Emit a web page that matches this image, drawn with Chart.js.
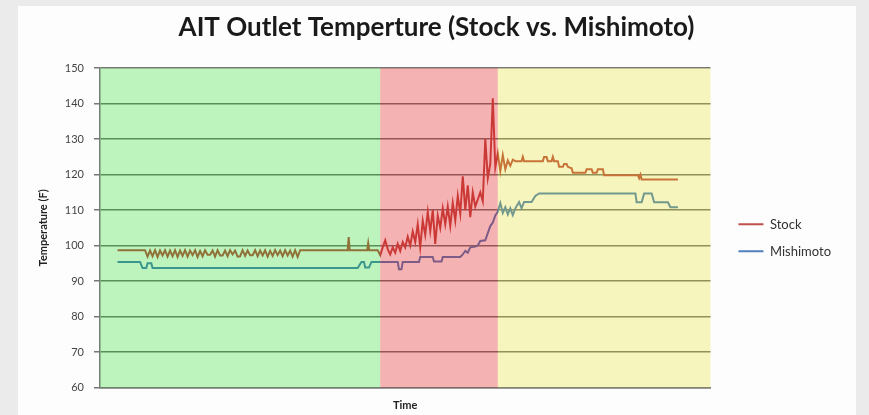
<!DOCTYPE html>
<html>
<head>
<meta charset="utf-8">
<title>AIT Outlet Temperture</title>
<script src="https://cdn.jsdelivr.net/npm/chart.js@4.4.1/dist/chart.umd.min.js"></script>
<style>
    html, body { margin: 0; padding: 0; overflow: hidden; background: #ebebeb; }
    #panel { position: absolute; left: 18px; top: 6px; width: 838px; height: 409px; background: #fdfdfd; }
    #wrap { position: absolute; left: 0; top: 0; width: 869px; height: 415px; }
</style>
</head>
<body>
<div id="panel"></div>
<div id="wrap"><canvas id="ait-chart"></canvas></div>
<script>
// Logger time (sample index) and the phases of the run
const timeMin = 0;
const timeMax = 244;
const phaseBounds = [0, 112, 159, 244];

// Temperature axis (F)
const tempMin = 60;
const tempMax = 150;
const tempStep = 10;

// Stock intercooler - AIT outlet
const stockTime = [
    7, 18, 19, 20, 21, 22, 23, 24, 25, 26, 27, 28, 29, 30, 31, 32, 33, 34, 35, 36,
    37, 38, 39, 40, 41, 42, 43, 44, 45, 46, 47, 48, 49, 50, 51, 52, 53, 54, 55, 56,
    57, 58, 59, 60, 61, 62, 63, 64, 65, 66, 67, 68, 69, 70, 71, 72, 73, 74, 75, 76,
    77, 78, 79, 80, 99, 99.4, 99.8, 106.8, 107.2, 107.6, 111,
    112, 113, 114, 115, 116, 117, 118, 119, 120, 121, 122, 123, 124, 125, 126, 127,
    128, 129, 130, 131, 132, 133, 134, 135, 136, 137, 138, 139, 140, 141, 142, 143,
    144, 145, 146, 147, 148, 149, 150, 151, 152, 153, 154, 155, 156, 157, 158, 159,
    160, 161, 162, 163, 164, 165, 166, 168.5, 169, 169.5, 177, 177.5, 178.5, 179,
    180.5, 181, 181.5, 183, 183.5, 185, 185.5, 186.5, 187, 188.5, 189, 194, 194.5,
    196.5, 197, 198.5, 199, 201, 201.5, 215, 215.5, 216, 216.5, 231
];
const stockTemp = [
    98.7, 98.7, 96.9, 98.6, 97.0, 98.7, 96.8, 98.6, 97.2, 98.7, 96.9, 98.6, 97.0, 98.7, 96.8, 98.6, 97.1, 98.7, 96.9, 98.6,
    97.3, 98.7, 96.8, 98.5, 97.0, 98.7, 97.4, 97.4, 98.6, 96.9, 98.7, 97.2, 97.2, 98.6, 97.0, 98.7, 97.5, 98.6, 96.9, 97.0,
    98.7, 97.1, 98.6, 97.3, 97.3, 98.7, 97.0, 98.6, 97.2, 98.7, 96.9, 98.5, 97.1, 98.7, 97.3, 98.6, 97.0, 98.7, 97.2, 98.6,
    96.9, 98.7, 96.8, 98.7, 98.7, 102.4, 98.7, 98.7, 100.7, 98.7, 98.7,
    97.3, 99.5, 101.5, 99.0, 97.5, 99.5, 98.0, 100.5, 98.5, 101.0, 99.5, 102.5, 100.0, 104.0, 101.0, 106.0,
    99.5, 107.0, 103.0, 109.5, 104.0, 110.0, 100.5, 108.5, 105.0, 110.5, 106.0, 111.0, 105.5, 112.0, 107.0, 114.0,
    109.0, 119.5, 110.0, 117.0, 108.0, 115.0, 111.0, 113.0, 115.0, 112.5, 130.0, 119.0, 123.0, 141.5, 122.0, 126.0,
    121.0, 125.5, 121.5, 124.0, 122.5, 124.2, 123.8, 123.8, 125.0, 123.8, 123.8, 125.0, 125.0, 123.8,
    123.8, 125.0, 123.8, 123.8, 122.2, 122.2, 123.0, 123.0, 122.2, 121.8, 120.5, 120.5, 121.5,
    121.5, 120.5, 120.5, 121.5, 121.5, 119.8, 119.8, 119.0, 120.0, 118.6, 118.6
];

// Mishimoto intercooler - AIT outlet
const mishTime = [
    7, 16, 17, 18.5, 19, 20.5, 21, 103, 104.5, 105.5, 106, 107.5, 108.5, 119, 119.5, 120.5,
    121, 127.5, 128, 133, 133.5, 136.5, 137, 144, 145, 146, 147, 148, 150, 151, 152, 154,
    155, 156, 157, 158, 159, 160, 161, 162, 163, 164, 165, 166, 167.5, 168.5, 169.5, 172.5,
    174, 175.5, 214, 214.5, 216.5, 217.5, 220.5, 221.5, 227, 228, 231
];
const mishTemp = [
    95.4, 95.4, 93.7, 93.7, 95.0, 95.0, 93.7, 93.7, 95.4, 95.4, 93.8, 93.8, 95.4, 95.4, 93.3, 93.3,
    95.4, 95.4, 96.8, 96.8, 95.5, 95.5, 96.8, 96.8, 97.5, 98.5, 98.0, 99.5, 99.7, 100.0, 101.3, 101.5,
    103.5, 105.5, 106.5, 108.5, 109.5, 112.0, 109.2, 110.8, 108.8, 110.5, 108.6, 110.5, 112.3, 110.5, 112.3, 112.3,
    114.0, 114.7, 114.7, 112.2, 112.2, 114.7, 114.7, 112.2, 112.2, 110.8, 110.8
];

const phaseColors = ['rgba(0, 215, 0, 0.25)', 'rgba(228, 5, 5, 0.3)', 'rgba(223, 223, 0, 0.25)'];

document.addEventListener('DOMContentLoaded', function () {
    const canvas = document.getElementById('ait-chart');

    Chart.defaults.font.family = 'Lato, "Open Sans", sans-serif';
    Chart.defaults.color = '#333';

    function toPoints(times, temps) {
        return times.map((t, i) => ({ x: t, y: temps[i] }));
    }

    // Tinted phase bands drawn on top of the lines, like the original overlay
    const phaseShading = {
        id: 'phaseShading',
        afterDatasetsDraw(chart) {
            const { ctx, chartArea, scales } = chart;
            ctx.save();
            for (let i = 0; i < phaseColors.length; i++) {
                const left = scales.x.getPixelForValue(phaseBounds[i]);
                const right = scales.x.getPixelForValue(phaseBounds[i + 1]);
                ctx.fillStyle = phaseColors[i];
                ctx.fillRect(left, chartArea.top, right - left, chartArea.bottom - chartArea.top);
            }
            ctx.restore();
        }
    };

    new Chart(canvas, {
        type: 'line',
        data: {
            datasets: [
                {
                    label: 'Stock',
                    data: toPoints(stockTime, stockTemp),
                    borderColor: '#c0504d',
                    backgroundColor: '#c0504d',
                    borderWidth: 2,
                    pointRadius: 0,
                    tension: 0
                },
                {
                    label: 'Mishimoto',
                    data: toPoints(mishTime, mishTemp),
                    borderColor: '#4f81bd',
                    backgroundColor: '#4f81bd',
                    borderWidth: 2,
                    pointRadius: 0,
                    tension: 0
                }
            ]
        },
        options: {
            responsive: true,
            maintainAspectRatio: false,
            animation: false,
            layout: {
                padding: { left: 32, right: 28, top: 0, bottom: 0 }
            },
            scales: {
                x: {
                    type: 'linear',
                    min: timeMin,
                    max: timeMax,
                    ticks: { display: false },
                    grid: { display: false },
                    border: { color: '#7a7a7a', width: 1.5 },
                    title: {
                        display: true,
                        text: 'Time',
                        color: '#222',
                        font: { size: 11, weight: 'bold' },
                        padding: { top: 0, bottom: 3 }
                    },
                    afterFit: scale => { scale.height = 27.5; }
                },
                y: {
                    min: tempMin,
                    max: tempMax,
                    ticks: {
                        stepSize: tempStep,
                        color: '#444',
                        font: { size: 11 },
                        padding: 10
                    },
                    grid: {
                        color: '#777',
                        lineWidth: 1.5,
                        tickLength: 6,
                        tickColor: '#777'
                    },
                    border: { color: '#7a7a7a', width: 1.5 },
                    title: {
                        display: true,
                        text: 'Temperature (F)',
                        color: '#222',
                        font: { size: 11, weight: 'bold' },
                        padding: { top: 5, bottom: 0 }
                    },
                    afterFit: scale => { scale.width = 68; }
                },
                // empty spacer between plot and legend
                legendGap: {
                    type: 'linear',
                    position: 'right',
                    display: true,
                    ticks: { display: false },
                    grid: { display: false },
                    border: { display: false },
                    afterFit: scale => { scale.width = 14; }
                }
            },
            plugins: {
                title: {
                    display: true,
                    text: 'AIT Outlet Temperture (Stock vs. Mishimoto)',
                    color: '#1a1a1a',
                    font: { size: 26, weight: 'bold' },
                    padding: { top: 12, bottom: 25 }
                },
                legend: {
                    position: 'right',
                    align: 'center',
                    fullSize: false,
                    title: { display: true, text: '', font: { size: 10 }, padding: 4 },
                    labels: {
                        usePointStyle: true,
                        pointStyle: 'line',
                        pointStyleWidth: 25,
                        padding: 14,
                        color: '#333',
                        font: { size: 13 }
                    }
                },
                tooltip: { enabled: false }
            }
        },
        plugins: [phaseShading]
    });
});
</script>
</body>
</html>
